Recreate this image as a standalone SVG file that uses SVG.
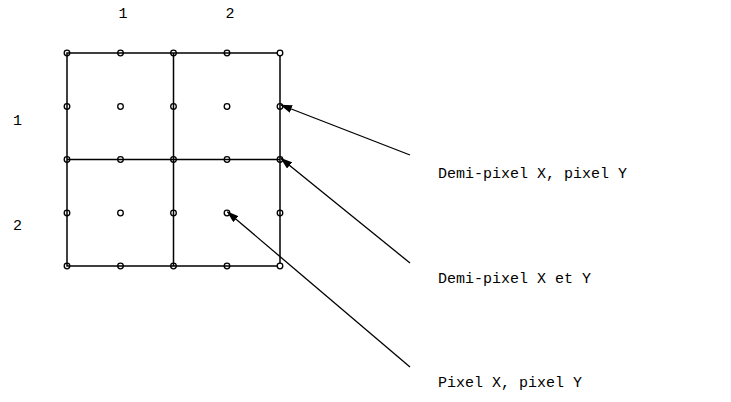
<svg xmlns="http://www.w3.org/2000/svg" width="731" height="402" viewBox="0 0 731 402">
<style>
.g{stroke:#000;stroke-width:1.5;fill:none}
.d{stroke:#000;stroke-width:1.3;fill:none}
.c{stroke:#000;stroke-width:1.3;fill:none}
.t{font-family:"Liberation Mono","Courier New",monospace;font-size:15px;fill:#000}
</style>
<defs>
<marker id="ah" markerWidth="12" markerHeight="8" refX="11" refY="4" orient="auto" markerUnits="userSpaceOnUse">
<path d="M0,0 L12,4 L0,8 Z" fill="#000"/>
</marker>
</defs>
<rect width="731" height="402" fill="#fff"/>
<g id="grid">
<path class="g" d="M67,53H280V266H67Z M173.5,53V266 M67,159.5H280"/>
</g>
<g id="points">
<g class="d">
<circle cx="67" cy="53" r="2.8"/><circle cx="120.5" cy="53" r="2.8"/><circle cx="173.5" cy="53" r="2.8"/><circle cx="227" cy="53" r="2.8"/><circle cx="280" cy="53" r="2.8" fill="#fff"/>
<circle cx="67" cy="106.5" r="2.8"/><circle cx="120.5" cy="106.5" r="2.8"/><circle cx="173.5" cy="106.5" r="2.8"/><circle cx="227" cy="106.5" r="2.8"/><circle cx="280" cy="106.5" r="2.8"/>
<circle cx="67" cy="159.5" r="2.8"/><circle cx="120.5" cy="159.5" r="2.8"/><circle cx="173.5" cy="159.5" r="2.8"/><circle cx="227" cy="159.5" r="2.8"/><circle cx="280" cy="159.5" r="2.8"/>
<circle cx="67" cy="213" r="2.8"/><circle cx="120.5" cy="213" r="2.8"/><circle cx="173.5" cy="213" r="2.8"/><circle cx="227" cy="213" r="2.8"/><circle cx="280" cy="213" r="2.8"/>
<circle cx="67" cy="266" r="2.8"/><circle cx="120.5" cy="266" r="2.8"/><circle cx="173.5" cy="266" r="2.8"/><circle cx="227" cy="266" r="2.8"/><circle cx="280" cy="266" r="2.8" fill="#fff"/>
</g>
</g>
<g id="axis-labels" class="t" text-anchor="middle">
<text x="123" y="18">1</text>
<text x="230" y="18">2</text>
<text x="17.5" y="125">1</text>
<text x="17.5" y="230">2</text>
</g>
<g id="connectors">
<line class="c" x1="410" y1="155" x2="281" y2="105" marker-end="url(#ah)"/>
<line class="c" x1="410" y1="263" x2="281" y2="158.5" marker-end="url(#ah)"/>
<line class="c" x1="410" y1="367" x2="227.5" y2="212" marker-end="url(#ah)"/>
</g>
<g id="label-half-x" class="t"><text x="438" y="178">Demi-pixel X, pixel Y</text></g>
<g id="label-half-xy" class="t"><text x="438" y="283">Demi-pixel X et Y</text></g>
<g id="label-pixel" class="t"><text x="438" y="387">Pixel X, pixel Y</text></g>
</svg>
